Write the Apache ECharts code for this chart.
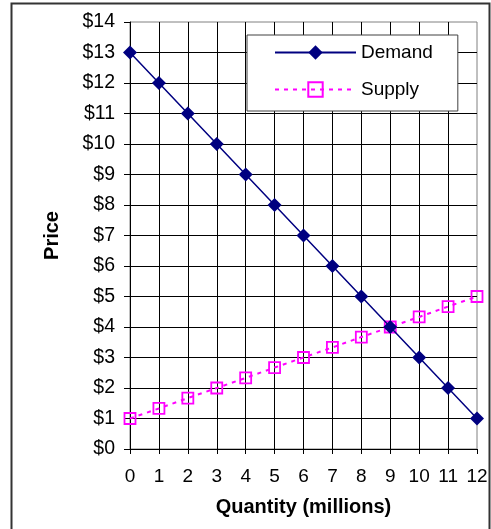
<!DOCTYPE html>
<html>
<head>
<meta charset="utf-8">
<script src="https://cdn.jsdelivr.net/npm/echarts@6/dist/echarts.min.js"></script>
<style>
  html, body { margin: 0; padding: 0; background: #fff; }
  #chart { width: 491px; height: 529px; }
</style>
</head>
<body>
<div id="chart"></div>
<script>
// Quantity (millions) on the horizontal axis
const quantity = [0, 1, 2, 3, 4, 5, 6, 7, 8, 9, 10, 11, 12];
// Price demanded at each quantity
const demand = [13, 12, 11, 10, 9, 8, 7, 6, 5, 4, 3, 2, 1];
// Price supplied at each quantity
const supply = [1, 1.33, 1.67, 2, 2.33, 2.67, 3, 3.33, 3.67, 4, 4.33, 4.67, 5];

const FONT = 'Liberation Sans, Arial, sans-serif';

const chart = echarts.init(document.getElementById('chart'), null, { renderer: 'canvas' });

chart.setOption({
  backgroundColor: '#fff',
  animation: false,
  graphic: [{
    type: 'rect',
    shape: { x: 11.5, y: 3.5, width: 478, height: 600 },
    style: { fill: 'none', stroke: '#333', lineWidth: 2 },
    silent: true
  }],
  grid: {
    left: 130, right: 14, top: 22, bottom: 80,
    show: true, borderColor: '#808080', borderWidth: 1, backgroundColor: '#fff'
  },
  legend: {
    orient: 'vertical',
    left: 247, top: 35,
    padding: [8, 25, 12, 27],
    itemGap: 18,
    itemWidth: 81, itemHeight: 18,
    backgroundColor: '#fff',
    borderColor: '#404040', borderWidth: 1,
    textStyle: { fontFamily: FONT, fontSize: 19, color: '#000' },
    data: ['Demand', 'Supply']
  },
  xAxis: {
    type: 'value',
    min: 0, max: 12, interval: 1,
    name: 'Quantity (millions)',
    nameLocation: 'middle',
    nameGap: 48,
    nameTextStyle: { fontFamily: FONT, fontSize: 20, fontWeight: 'bold', color: '#000' },
    axisLine: { show: true, onZero: false, lineStyle: { color: '#000', width: 1 } },
    axisTick: { show: true, length: 5, lineStyle: { color: '#000' } },
    axisLabel: { fontFamily: FONT, fontSize: 19, color: '#000', margin: 18 },
    splitLine: { show: true, showMaxLine: false, lineStyle: { color: '#000', width: 1 } }
  },
  yAxis: {
    type: 'value',
    min: 0, max: 14, interval: 1,
    name: 'Price',
    nameLocation: 'middle',
    nameGap: 68,
    nameTextStyle: { fontFamily: FONT, fontSize: 20, fontWeight: 'bold', color: '#000' },
    axisLine: { show: true, onZero: false, lineStyle: { color: '#000', width: 1 } },
    axisTick: { show: true, length: 6, lineStyle: { color: '#000' } },
    axisLabel: {
      fontFamily: FONT, fontSize: 19.5, color: '#000', margin: 15,
      formatter: v => '$' + v
    },
    splitLine: { show: true, showMaxLine: false, lineStyle: { color: '#000', width: 1 } }
  },
  series: [
    {
      name: 'Demand',
      type: 'line',
      data: quantity.map((q, i) => [q, demand[i]]),
      color: '#000080',
      symbol: 'diamond',
      symbolSize: 14,
      showAllSymbol: true,
      lineStyle: { color: '#000080', width: 1.5 },
      itemStyle: { color: '#000080' },
      z: 3
    },
    {
      name: 'Supply',
      type: 'line',
      data: quantity.map((q, i) => [q, supply[i]]),
      color: '#FF00FF',
      symbol: 'rect',
      symbolSize: 11,
      showAllSymbol: true,
      lineStyle: { color: '#FF00FF', width: 2, type: [4, 5] },
      itemStyle: { color: 'rgba(255,255,255,0)', borderColor: '#FF00FF', borderWidth: 1.8 },
      z: 2
    }
  ]
});
</script>
</body>
</html>
